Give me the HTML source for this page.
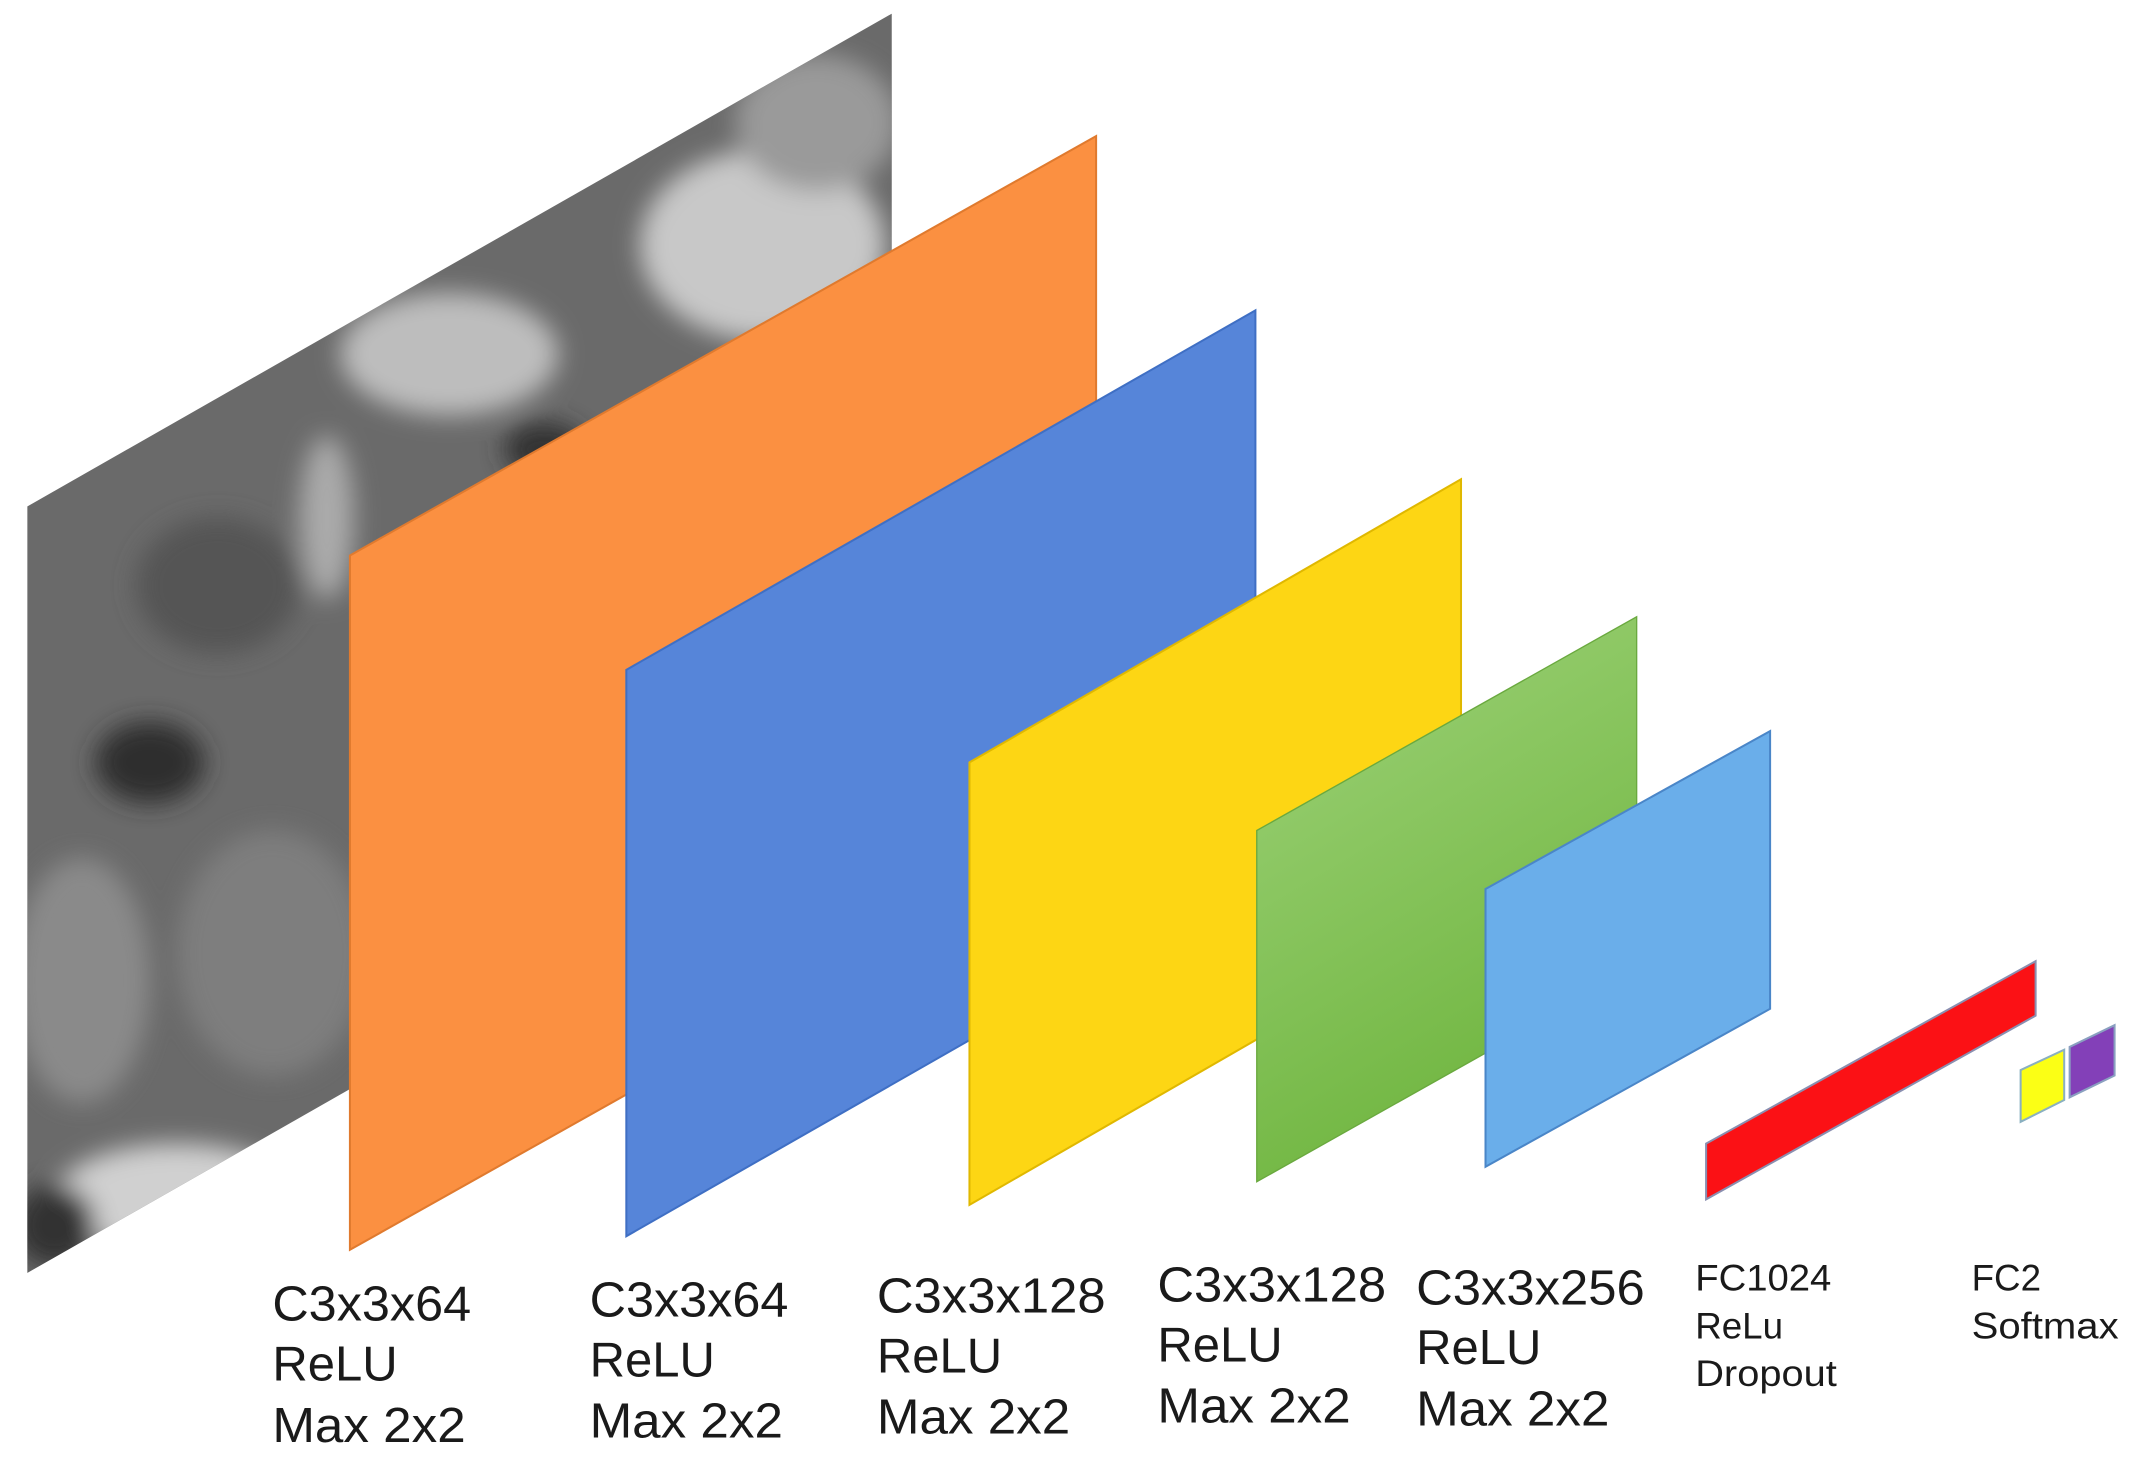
<!DOCTYPE html>
<html><head><meta charset="utf-8"><style>
html,body{margin:0;padding:0;background:#fff;}
svg{display:block;}
text{font-family:"Liberation Sans",sans-serif;fill:#1a1a1a;}
</style></head><body>
<svg width="2135" height="1469" viewBox="0 0 1568 1079" preserveAspectRatio="none">
<defs>
<clipPath id="imgclip"><polygon points="20,372 655,10 655,573 20,935"/></clipPath>
<filter id="blur"><feGaussianBlur stdDeviation="9"/></filter>
<linearGradient id="greenGrad" x1="0" y1="0" x2="0.4" y2="1">
<stop offset="0" stop-color="#9fd37a"/><stop offset="1" stop-color="#6fb53f"/></linearGradient>
</defs>
<g clip-path="url(#imgclip)">
<rect x="0" y="0" width="700" height="950" fill="#6a6a6a"/>
<g filter="url(#blur)">
<ellipse cx="560" cy="180" rx="90" ry="70" fill="#c8c8c8"/>
<ellipse cx="330" cy="260" rx="80" ry="45" fill="#bdbdbd"/>
<ellipse cx="600" cy="90" rx="60" ry="50" fill="#9a9a9a"/>
<ellipse cx="130" cy="880" rx="90" ry="40" fill="#d0d0d0"/>
<ellipse cx="110" cy="560" rx="40" ry="30" fill="#2e2e2e"/>
<ellipse cx="60" cy="720" rx="50" ry="90" fill="#8a8a8a"/>
<ellipse cx="160" cy="430" rx="60" ry="50" fill="#555"/>
<ellipse cx="200" cy="700" rx="70" ry="90" fill="#7e7e7e"/>
<ellipse cx="400" cy="330" rx="30" ry="20" fill="#333"/>
<ellipse cx="40" cy="900" rx="30" ry="30" fill="#333"/>
<ellipse cx="240" cy="380" rx="20" ry="60" fill="#aaa"/>
</g>
</g>
<polygon points="257,408 805,100 805,610 257,918" fill="#fb9041" stroke="#e07a2e" stroke-width="1.5"/>
<polygon points="460,492 922,228 922,644 460,908" fill="#5685d9" stroke="#3f6fc4" stroke-width="1.5"/>
<polygon points="712,560 1073,352 1073,677 712,885" fill="#fdd614" stroke="#e0b800" stroke-width="1.5"/>
<polygon points="923,610 1202,453 1202,711 923,868" fill="url(#greenGrad)" stroke="#6aa93f" stroke-width="1"/>
<polygon points="1091,653 1300,537 1300,741 1091,857" fill="#6aaeea" stroke="#4a86c8" stroke-width="1.5"/>
<polygon points="1253,840 1495,706 1495,746 1253,881" fill="#fb1115" stroke="#8a8fb0" stroke-width="1.5"/>
<polygon points="1484,786 1516,771 1516,808 1484,824" fill="#fbff15" stroke="#8ab0c0" stroke-width="1.5"/>
<polygon points="1520,769 1553,753 1553,790 1520,806" fill="#8340b8" stroke="#8aa0c0" stroke-width="1.5"/>
<g font-size="36">
<text x="200" y="970" textLength="146" lengthAdjust="spacingAndGlyphs">C3x3x64</text>
<text x="200" y="1014">ReLU</text>
<text x="200" y="1059" textLength="142" lengthAdjust="spacingAndGlyphs">Max 2x2</text>
<text x="433" y="967" textLength="146" lengthAdjust="spacingAndGlyphs">C3x3x64</text>
<text x="433" y="1011">ReLU</text>
<text x="433" y="1056" textLength="142" lengthAdjust="spacingAndGlyphs">Max 2x2</text>
<text x="644" y="964" textLength="168" lengthAdjust="spacingAndGlyphs">C3x3x128</text>
<text x="644" y="1008">ReLU</text>
<text x="644" y="1053" textLength="142" lengthAdjust="spacingAndGlyphs">Max 2x2</text>
<text x="850" y="956" textLength="168" lengthAdjust="spacingAndGlyphs">C3x3x128</text>
<text x="850" y="1000">ReLU</text>
<text x="850" y="1045" textLength="142" lengthAdjust="spacingAndGlyphs">Max 2x2</text>
<text x="1040" y="958" textLength="168" lengthAdjust="spacingAndGlyphs">C3x3x256</text>
<text x="1040" y="1002">ReLU</text>
<text x="1040" y="1047" textLength="142" lengthAdjust="spacingAndGlyphs">Max 2x2</text>
</g>
<g font-size="27">
<text x="1245" y="948" textLength="100" lengthAdjust="spacingAndGlyphs">FC1024</text>
<text x="1245" y="983">ReLu</text>
<text x="1245" y="1018" textLength="104" lengthAdjust="spacingAndGlyphs">Dropout</text>
<text x="1448" y="948">FC2</text>
<text x="1448" y="983" textLength="108" lengthAdjust="spacingAndGlyphs">Softmax</text>
</g>
</svg>
</body></html>
